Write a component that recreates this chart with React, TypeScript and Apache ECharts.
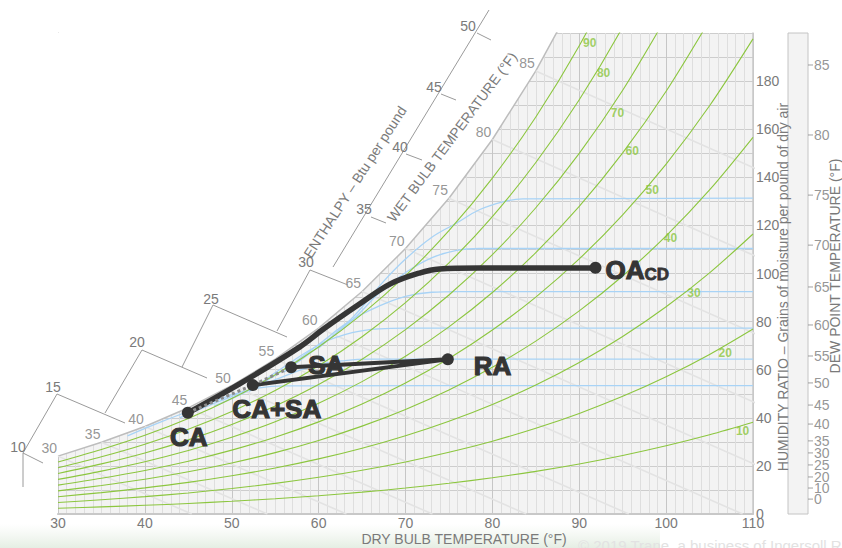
import React, { useEffect, useRef } from 'react';
import * as echarts from 'echarts';

// ---------- data ----------
const dryBulbTemps = [30, 35, 40, 45, 50, 55, 60, 65, 70, 75, 80, 85, 90, 95, 100, 105, 110];
const saturationGrains = [24.07, 29.82, 36.37, 44.16, 53.42, 64.38, 77.31, 92.52, 110.38, 131.28, 155.71, 184.22, 217.45, 256.2];

const rhLevels = [90, 80, 70, 60, 50, 40, 30, 20, 10];
const rh90 = [21.65, 26.82, 32.7, 39.7, 48.02, 57.86, 69.46, 83.09, 99.09, 117.8, 139.65, 165.1, 194.73, 229.2];
const rh80 = [19.24, 23.82, 29.04, 35.26, 42.63, 51.35, 61.63, 73.7, 87.86, 104.4, 123.69, 146.14, 172.24, 202.5, 237.6];
const rh70 = [16.82, 20.83, 25.39, 30.82, 37.26, 44.86, 53.83, 64.36, 76.68, 91.07, 107.85, 127.34, 149.96, 176.2, 206.47];
const rh60 = [14.41, 17.84, 21.75, 26.39, 31.89, 38.4, 46.06, 55.04, 65.56, 77.83, 92.11, 108.69, 127.91, 150.16, 175.79, 205.3];
const rh50 = [12.0, 14.86, 18.11, 21.97, 26.55, 31.95, 38.31, 45.77, 54.5, 64.67, 76.49, 90.2, 106.07, 124.41, 145.51, 169.74, 197.56];
const rh40 = [9.6, 11.88, 14.47, 17.56, 21.21, 25.52, 30.6, 36.54, 43.49, 51.58, 60.98, 71.87, 84.45, 98.97, 115.63, 134.75, 156.63];
const rh30 = [7.19, 8.9, 10.85, 13.15, 15.89, 19.12, 22.91, 27.35, 32.54, 38.57, 45.57, 53.68, 63.03, 73.81, 86.16, 100.28, 116.43];
const rh20 = [4.79, 5.93, 7.22, 8.76, 10.58, 12.73, 15.25, 18.2, 21.64, 25.64, 30.28, 35.64, 41.82, 48.92, 57.06, 66.35, 76.93];
const rh10 = [2.4, 2.96, 3.61, 4.38, 5.28, 6.35, 7.61, 9.08, 10.79, 12.78, 15.08, 17.74, 20.81, 24.33, 28.35, 32.92, 38.13];
const rhCurves = [rh90, rh80, rh70, rh60, rh50, rh40, rh30, rh20, rh10];
const rhLabelT = [91.2, 92.8, 94.4, 96.1, 98.4, 100.5, 103.2, 106.8, 108.8];
const rhLabelW = [195.8, 183.4, 166.7, 150.9, 134.7, 114.8, 91.9, 66.9, 34.5];

const wetBulbTemps = [30, 35, 40, 45, 50, 55, 60, 65, 70, 75, 80, 85];
const wetBulbSatGrains = [24.07, 29.82, 36.37, 44.16, 53.42, 64.38, 77.31, 92.52, 110.38, 131.28, 155.71, 184.22];
const wetBulbDryEnd = [45.4, 54.1, 63.2, 73.1, 83.9, 95.7, 108.8, 123.2, 139.3, 157.2, 177.2, 199.7];

const enthalpyTicks = [10, 15, 20, 25, 30, 35, 40, 45, 50];

const dewPointTicks = [85, 80, 75, 70, 65, 60, 55, 50, 45, 40, 35, 30, 25, 20, 10, 0];
const dewPointGrains = [186.7, 157.6, 132.6, 111.8, 94.4, 78.6, 65.7, 54.5, 45.3, 37.4, 30.4, 25.4, 20.4, 15.4, 10.8, 6.2];

const blue50T = [38, 42, 46, 50, 53, 56, 110];
const blue50W = [32.5, 38.5, 44, 49.5, 52.3, 53.3, 53.4];
const blue55T = [44, 48, 52, 55.5, 59.3, 63, 66, 110];
const blue55W = [40, 46, 51.5, 56.5, 61.5, 63.8, 64.4, 64.4];
const blue60T = [48, 52, 55.5, 60.4, 64, 67, 70, 110];
const blue60W = [45, 51.5, 60, 71, 75.5, 77, 77.3, 77.3];
const blue65T = [52, 56, 60, 63.5, 67, 70, 73, 76, 110];
const blue65W = [51, 60, 70.5, 80, 86.5, 90.5, 92.2, 92.5, 92.5];
const blue70T = [56, 60, 64, 67, 70.1, 73, 75.9, 78.5, 110];
const blue70W = [59, 69.5, 81, 92, 100.6, 106.5, 109.6, 110.4, 110.4];
const blue75T = [60, 64, 67.3, 70, 73, 75.9, 78.5, 81.2, 83.5, 110];
const blue75W = [69, 82, 96, 106, 115, 121, 126.5, 129.8, 131, 131.3];
const blueLinesT = [blue50T, blue55T, blue60T, blue65T, blue70T, blue75T];
const blueLinesW = [blue50W, blue55W, blue60W, blue65W, blue70W, blue75W];

const coilPathT = [44.94, 50.9, 57.8, 60.6, 64.7, 68.2, 71.6, 73.9, 78.5, 91.87];
const coilPathW = [42.0, 54.1, 69.4, 77.0, 87.3, 95.6, 100.2, 101.9, 102.3, 102.3];

const stateNames = ['CA', 'CA+SA', 'SA', 'RA', 'OA'];
const stateT = [44.94, 52.42, 56.84, 74.87, 91.87];
const stateW = [42.1, 53.6, 61.0, 64.3, 102.4];

// ---------- helpers ----------
const pairs = (xs: number[], ys: number[]) => ys.map((y, i) => [xs[i], y]);
const NARROW = "'Liberation Sans Narrow', 'Liberation Sans', Arial, sans-serif";
const SANS = "'Liberation Sans', Arial, sans-serif";
const GREY_TXT = '#7a7a7a';
const DARK = '#353535';
const GREEN = '#8cc63f';

export default function App() {
  const ref = useRef<HTMLDivElement>(null);
  useEffect(() => {
    if (!ref.current) return;
    const chart = echarts.init(ref.current, undefined, { renderer: 'svg' });

    const series: any[] = [];

    // white area above saturation curve + curve
    series.push({
      type: 'line',
      data: pairs(dryBulbTemps, saturationGrains),
      symbol: 'none',
      lineStyle: { color: '#bdbdbd', width: 1.5 },
      areaStyle: { color: '#ffffff', opacity: 1, origin: 'end' },
      z: 2,
      silent: true,
    });

    // wet bulb lines
    wetBulbTemps.forEach((t, i) => {
      series.push({
        type: 'line',
        data: [[t, wetBulbSatGrains[i]], [wetBulbDryEnd[i], 0]],
        symbol: 'none',
        lineStyle: { color: '#e3e3e3', width: 1.6 },
        z: 3,
        silent: true,
      });
    });

    // blue lines
    blueLinesT.forEach((ts, i) => {
      series.push({
        type: 'line',
        data: pairs(ts, blueLinesW[i]),
        symbol: 'none',
        smooth: 0.4,
        lineStyle: { color: '#a8d3f6', width: 1.3 },
        z: 4,
        silent: true,
      });
    });

    // RH curves
    rhCurves.forEach((ws) => {
      series.push({
        type: 'line',
        data: pairs(dryBulbTemps, ws),
        symbol: 'none',
        smooth: 0.3,
        lineStyle: { color: GREEN, width: 1.1 },
        z: 4,
        silent: true,
      });
    });

    // RH labels
    series.push({
      type: 'scatter',
      symbolSize: 0,
      data: rhLevels.map((rh, i) => ({ name: String(rh), value: [rhLabelT[i], rhLabelW[i]] })),
      label: {
        show: true,
        position: 'inside',
        formatter: '{b}',
        color: GREEN,
        fontSize: 12,
        fontWeight: 'bold',
        fontFamily: SANS,
      },
      z: 5,
      silent: true,
    });

    // wet bulb labels on the saturation curve
    series.push({
      type: 'scatter',
      symbolSize: 0,
      data: wetBulbTemps.map((t, i) => ({ name: String(t), value: [t, wetBulbSatGrains[i]] })),
      label: {
        show: true,
        position: 'left',
        distance: 1,
        offset: [0, -8],
        formatter: '{b}',
        color: GREY_TXT,
        fontSize: 14,
        fontFamily: NARROW,
      },
      clip: false,
      z: 5,
      silent: true,
    });

    // coil path (OA -> CA)
    series.push({
      type: 'line',
      data: pairs(coilPathT, coilPathW),
      symbol: 'none',
      smooth: 0.35,
      lineStyle: { color: DARK, width: 5.5, cap: 'round' },
      clip: false,
      z: 6,
      silent: true,
    });

    // triangle SA - RA - CA+SA
    series.push({
      type: 'line',
      data: [[stateT[2], stateW[2]], [stateT[3], stateW[3]], [stateT[1], stateW[1]]],
      symbol: 'none',
      lineStyle: { color: DARK, width: 4 },
      z: 6,
      silent: true,
    });

    // mixing line CA - CA+SA - SA (dotted)
    series.push({
      type: 'line',
      data: [[stateT[0], stateW[0]], [stateT[1], stateW[1]], [stateT[2], stateW[2]]],
      symbol: 'none',
      lineStyle: { color: '#8a8a8a', width: 3, type: [3, 3] },
      z: 6,
      silent: true,
    });

    // state points
    const bigLabel = {
      fontSize: 26,
      fontWeight: 'bold',
      color: DARK,
      fontFamily: SANS,
      textBorderColor: DARK,
      textBorderWidth: 1.2,
    };
    const labelCfg: any[] = [
      { position: 'bottom', distance: 5, offset: [1, 0] },
      { position: 'bottom', distance: 5, offset: [24, 0] },
      { position: 'right', distance: 11, offset: [0, -2] },
      { position: 'right', distance: 20, offset: [0, 7] },
      { position: 'right', distance: 4, offset: [0, 2] },
    ];
    series.push({
      type: 'scatter',
      symbolSize: 12,
      itemStyle: { color: DARK, opacity: 1 },
      data: stateNames.map((n, i) => ({
        name: n,
        value: [stateT[i], stateW[i]],
        label:
          n === 'OA'
            ? {
                show: true,
                ...labelCfg[i],
                formatter: '{a|OA}{b|CD}',
                rich: {
                  a: { ...bigLabel, verticalAlign: 'bottom', lineHeight: 26 },
                  b: {
                    fontSize: 17,
                    fontWeight: 'bold',
                    color: DARK,
                    fontFamily: SANS,
                    textBorderColor: DARK,
                    textBorderWidth: 0.8,
                    verticalAlign: 'bottom',
                    lineHeight: 22,
                  },
                },
              }
            : { show: true, ...labelCfg[i], formatter: '{b}', ...bigLabel },
      })),
      z: 7,
      silent: true,
    });

    // dew point scale (second grid)
    series.push({
      type: 'scatter',
      xAxisIndex: 2,
      yAxisIndex: 2,
      symbol: 'rect',
      symbolSize: [5, 1],
      symbolOffset: [2.5, 0],
      itemStyle: { color: '#8a8a8a' },
      data: dewPointTicks.map((d, i) => ({ name: String(d), value: [1, dewPointGrains[i]] })),
      label: {
        show: true,
        position: 'right',
        distance: 1,
        formatter: '{b}',
        color: GREY_TXT,
        fontSize: 14,
        fontFamily: NARROW,
      },
      clip: false,
      silent: true,
    });

    // ---------- decorative enthalpy scale & titles ----------
    const lineStyle = { stroke: '#9a9a9a', lineWidth: 1 };
    const segs = [
      [23, 487, 23, 453], [23, 453, 57, 394], [105, 413, 142, 350], [182, 367, 213, 305],
      [277, 331, 310, 270], [333, 267, 489, 10],
      [23, 453, 43, 463], [57, 394, 125, 423], [142, 350, 207, 378], [213, 305, 287, 337],
      [310, 270, 348, 285], [371, 217, 386, 223], [406, 154, 422, 160], [441, 94, 456, 100], [477, 33, 491, 40],
    ];
    const enthalpyLabelPos = [
      [18, 447], [53, 387], [137, 342], [211, 299], [306, 262], [364, 209], [400, 147], [434, 87], [468, 26],
    ];
    const graphic: any[] = [];
    // faint bottom band
    graphic.push({
      type: 'rect',
      z: -1,
      silent: true,
      shape: { x: 0, y: 524, width: 660, height: 24 },
      style: {
        fill: new echarts.graphic.LinearGradient(0, 0, 0, 1, [
          { offset: 0, color: 'rgba(232,240,230,0)' },
          { offset: 1, color: 'rgba(226,236,224,0.9)' },
        ]),
      },
    });
    segs.forEach((s) =>
      graphic.push({
        type: 'line',
        z: 100,
        silent: true,
        shape: { x1: s[0], y1: s[1], x2: s[2], y2: s[3] },
        style: lineStyle,
      })
    );
    enthalpyTicks.forEach((v, i) =>
      graphic.push({
        type: 'text',
        z: 100,
        x: enthalpyLabelPos[i][0],
        y: enthalpyLabelPos[i][1],
        silent: true,
        style: { text: String(v), fill: GREY_TXT, fontSize: 14, fontFamily: NARROW, align: 'center', verticalAlign: 'middle' },
      })
    );
    const rotText = (text: string, x: number, y: number, deg: number, size = 14) => ({
      type: 'text',
      z: 100,
      x,
      y,
      rotation: (deg * Math.PI) / 180,
      silent: true,
      style: { text, fill: GREY_TXT, fontSize: size, fontFamily: NARROW, align: 'center', verticalAlign: 'middle' },
    });
    graphic.push(rotText('WET BULB TEMPERATURE (°F)', 452, 137, 53.4));
    graphic.push(rotText('ENTHALPY – Btu per pound', 355, 182, 57.2));
    graphic.push(rotText('HUMIDITY RATIO – Grains of moisture per pound of dry air', 783, 287, 90));
    graphic.push(rotText('DEW POINT TEMPERATURE (°F)', 835, 266, 90));
    graphic.push(rotText('DRY BULB TEMPERATURE (°F)', 464, 539, 0));
    graphic.push({
      type: 'text',
      z: 100,
      x: 578,
      y: 545,
      silent: true,
      style: { text: '© 2019 Trane, a business of Ingersoll Rand', fill: '#e2e2e2', fontSize: 15, fontFamily: SANS, align: 'left', verticalAlign: 'middle' },
    });

    const option: any = {
      animation: false,
      backgroundColor: '#ffffff',
      grid: [
        { left: 58, right: 89, top: 33, bottom: 34, show: true, backgroundColor: '#f3f3f3', borderWidth: 0 },
        { left: 788, right: 34, top: 33, bottom: 34, show: true, backgroundColor: '#f3f3f3', borderColor: '#c4c4c4', borderWidth: 1 },
      ],
      xAxis: [
        {
          type: 'value',
          gridIndex: 0,
          min: 30,
          max: 110,
          interval: 10,
          axisLine: { show: true, lineStyle: { color: '#c8c8c8', width: 2 } },
          axisTick: { show: false },
          axisLabel: { color: GREY_TXT, fontSize: 14, fontFamily: NARROW, margin: 2 },
          splitLine: { show: true, lineStyle: { color: '#c6c6c6', width: 1 } },
          minorTick: { show: false, splitNumber: 10 },
          minorSplitLine: { show: true, lineStyle: { color: '#dedede', width: 1 } },
        },
        {
          type: 'value',
          gridIndex: 0,
          position: 'top',
          min: 30,
          max: 110,
          axisLine: { show: true, lineStyle: { color: '#c8c8c8', width: 1 } },
          axisTick: { show: false },
          axisLabel: { show: false },
          splitLine: { show: false },
        },
        { type: 'value', gridIndex: 1, min: 0, max: 1, show: false },
      ],
      yAxis: [
        {
          type: 'value',
          gridIndex: 0,
          position: 'right',
          min: 0,
          max: 200,
          interval: 20,
          axisLine: { show: true, lineStyle: { color: '#c8c8c8', width: 1.5 } },
          axisTick: { show: false },
          axisLabel: { color: GREY_TXT, fontSize: 14, fontFamily: NARROW, margin: 3, showMaxLabel: false },
          splitLine: { show: true, lineStyle: { color: '#cdcdcd', width: 1 } },
          minorTick: { show: false, splitNumber: 2 },
          minorSplitLine: { show: true, lineStyle: { color: '#cdcdcd', width: 1 } },
        },
        {
          type: 'value',
          gridIndex: 0,
          position: 'left',
          min: 0,
          max: 200,
          axisLine: { show: true, lineStyle: { color: '#c8c8c8', width: 1 } },
          axisTick: { show: false },
          axisLabel: { show: false },
          splitLine: { show: false },
        },
        { type: 'value', gridIndex: 1, min: 0, max: 200, show: false },
      ],
      graphic,
      series,
    };

    chart.setOption(option);
    return () => chart.dispose();
  }, []);

  return <div ref={ref} style={{ position: 'fixed', left: 0, top: 0, width: 842, height: 548 }} />;
}
